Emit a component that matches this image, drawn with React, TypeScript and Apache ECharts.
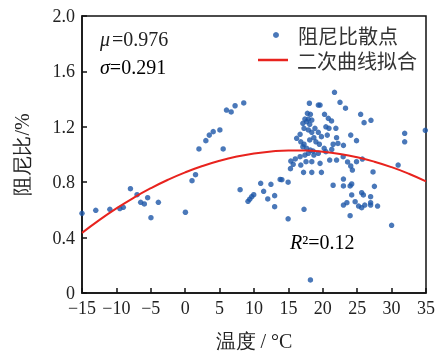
import React, { useEffect, useRef } from "react";
import * as echarts from "echarts";

// Scatter points: [temperature °C, damping ratio %]
const coldPoints: number[][] = [
  [-15.0, 0.575], [-13.0, 0.597], [-10.95, 0.604], [-9.5, 0.61], [-9.0, 0.619],
  [-7.96, 0.753], [-7.0, 0.71], [-6.47, 0.655], [-5.94, 0.643], [-5.46, 0.688],
  [-4.98, 0.544], [-3.9, 0.655], [0.03, 0.583], [0.99, 0.811], [1.5, 0.854],
];
const risingPoints: number[][] = [
  [2.0, 1.04], [3.0, 1.1], [3.5, 1.14], [4.07, 1.165], [5.04, 1.177], [5.52, 1.04],
  [6.0, 1.321], [6.68, 1.307], [7.25, 1.352], [8.51, 1.372], [7.98, 0.746],
  [9.13, 0.662], [9.38, 0.677], [9.67, 0.695], [9.96, 0.71], [10.97, 0.792],
  [11.4, 0.734], [12.0, 0.679], [12.46, 0.785], [13.0, 0.703], [13.0, 0.623],
  [13.8, 0.82], [14.05, 0.818], [14.96, 0.8], [14.96, 0.536], [15.3, 0.898],
  [17.27, 0.604],
];
const clusterPoints: number[][] = [
  [18.05, 1.37], [19.35, 1.357], [19.6, 1.357], [22.5, 1.377], [23.3, 1.334],
  [17.76, 1.297], [18.2, 1.29], [17.4, 1.256], [17.9, 1.256], [18.4, 1.249],
  [17.1, 1.225], [17.66, 1.237], [18.1, 1.218], [17.27, 1.189], [16.7, 1.146],
  [16.2, 1.117], [16.8, 1.092], [17.27, 1.074], [17.9, 1.177], [18.4, 1.16],
  [18.86, 1.189], [19.35, 1.16], [19.8, 1.129], [18.7, 1.121], [18.1, 1.105],
  [19.0, 1.092], [19.5, 1.074], [20.8, 1.261], [21.27, 1.242], [20.45, 1.2],
  [20.9, 1.189], [20.65, 1.14], [21.9, 1.189], [22.0, 1.121], [22.2, 1.08],
  [21.5, 1.074], [20.2, 1.045], [17.1, 1.056], [17.66, 1.045], [18.2, 1.032],
  [18.6, 1.025], [17.9, 1.009], [17.4, 0.996], [18.7, 0.996], [19.35, 1.009],
  [20.45, 1.02], [16.7, 0.984], [16.0, 0.968], [15.35, 0.953], [15.7, 0.929],
  [16.8, 0.924], [17.56, 0.948], [18.4, 0.948], [19.6, 0.936], [17.2, 0.871],
  [18.4, 0.871], [19.8, 0.871], [22.0, 0.96], [22.96, 0.984], [20.25, 1.29],
  [18.2, 0.094],
];
const warmPoints: number[][] = [
  [21.7, 1.449], [25.5, 1.29], [26.0, 1.23], [27.0, 1.247], [31.9, 1.153],
  [31.9, 1.092], [34.9, 1.175], [24.06, 1.14], [24.9, 1.1], [23.0, 1.066],
  [21.3, 1.037], [21.0, 0.96], [23.6, 0.946], [24.9, 0.948], [25.75, 0.967],
  [24.06, 0.917], [24.3, 0.888], [27.3, 0.874], [30.95, 0.924], [27.5, 0.77],
  [21.5, 0.778], [23.0, 0.823], [23.0, 0.773], [23.97, 0.773], [24.2, 0.787],
  [24.2, 0.708], [25.65, 0.724], [25.9, 0.708], [26.95, 0.695], [24.7, 0.659],
  [25.2, 0.628], [25.65, 0.616], [26.1, 0.635], [26.95, 0.635], [27.96, 0.628],
  [23.0, 0.635], [23.5, 0.652], [23.97, 0.558], [30.0, 0.489], [26.95, 0.652],
];

// Quadratic fit y = A (x - H)^2 + K, coefficients
const FIT_A = -0.00062;
const FIT_H = 16;
const FIT_K = 1.03;
const fitXs: number[] = [-15, -12.5, -10, -7.5, -5, -2.5, 0, 2.5, 5, 7.5, 10, 12.5, 15, 17.5, 20, 22.5, 25, 27.5, 30, 32.5, 35];

const xTicks = { min: -15, max: 35, interval: 5 };
const yTicks = { min: 0, max: 2, interval: 0.4 };

const mu = "0.976";
const sigma = "0.291";
const r2 = "0.12";

export default function App() {
  const ref = useRef<HTMLDivElement>(null);
  useEffect(() => {
    if (!ref.current) return;
    const chart = echarts.init(ref.current, undefined, { renderer: "svg" });
    const scatterData = [...coldPoints, ...risingPoints, ...clusterPoints, ...warmPoints];
    const fitData = fitXs.map((x) => [x, FIT_A * (x - FIT_H) * (x - FIT_H) + FIT_K]);
    const fmtX = (v: number) => (v < 0 ? "\u2212" + Math.abs(v) : String(v));
    const fmtY = (v: number) => (v === 0 ? "0" : v.toFixed(1));
    chart.setOption({
      animation: false,
      grid: {
        left: 82, right: 10, top: 16, bottom: 63,
        show: true, borderColor: "#111", borderWidth: 1.5,
      },
      xAxis: {
        type: "value", ...xTicks,
        name: "温度 / °C", nameLocation: "middle", nameGap: 38,
        nameTextStyle: { fontFamily: "serif", fontSize: 20, color: "#222" },
        axisLine: { show: true, onZero: false, lineStyle: { color: "#111", width: 1.5 } },
        axisTick: { show: true, inside: true, length: 5, lineStyle: { color: "#111", width: 1.5 } },
        axisLabel: { formatter: fmtX, fontFamily: "Liberation Serif", fontStyle: "normal", fontWeight: "normal", fontSize: 18, color: "#222", margin: 6 },
        splitLine: { show: false },
      },
      yAxis: {
        type: "value", ...yTicks,
        name: "阻尼比/%", nameLocation: "middle", nameGap: 50,
        nameTextStyle: { fontFamily: "serif", fontSize: 20, color: "#222" },
        axisLine: { show: true, onZero: false, lineStyle: { color: "#111", width: 1.5 } },
        axisTick: { show: true, inside: true, length: 5, lineStyle: { color: "#111", width: 1.5 } },
        axisLabel: { formatter: fmtY, fontFamily: "serif", fontSize: 18, color: "#222", margin: 7 },
        splitLine: { show: false },
      },
      legend: [
        {
          data: [{ name: "阻尼比散点", icon: "circle" }],
          left: 273, top: 25, padding: 0, itemWidth: 34, itemHeight: 6,
          textStyle: { fontFamily: "Noto Sans CJK SC", fontSize: 20, color: "#333", lineHeight: 20 },
        },
        {
          data: [{ name: "二次曲线拟合", icon: "rect" }],
          left: 258, top: 50, padding: 0, itemWidth: 30, itemHeight: 2.5,
          textStyle: { fontFamily: "Noto Sans CJK SC", fontSize: 20, color: "#333", lineHeight: 20, padding: [0, 0, 0, 4] },
        },
      ],
      graphic: [
        { type: "text", left: 100, top: 29, style: { text: "μ", fontFamily: "Liberation Serif", fontStyle: "italic", fontSize: 20, fill: "#222" } },
        { type: "text", left: 112, top: 29, style: { text: "=" + mu, fontFamily: "Liberation Serif", fontSize: 20, fill: "#222" } },
        { type: "text", left: 100, top: 57, style: { text: "{i|σ}{n|=" + sigma + "}", font: "20px serif", rich: { i: { font: "italic 20px serif" }, n: { font: "20px serif" } } } },
        { type: "text", left: 290, top: 232, style: { text: "{i|R}{n|²=" + r2 + "}", rich: { i: { fontFamily: "serif", fontStyle: "italic", fontSize: 20 }, n: { fontFamily: "serif", fontSize: 20 } } } },
      ],
      series: [
        {
          name: "阻尼比散点", type: "scatter", data: scatterData,
          symbol: "circle", symbolSize: 5.5,
          itemStyle: { color: "#1d56a8" },
          z: 2,
        },
        {
          name: "二次曲线拟合", type: "line", data: fitData,
          smooth: true, showSymbol: false, symbol: "none",
          lineStyle: { color: "#e8231e", width: 2 },
          itemStyle: { color: "#e8231e" },
          z: 3,
        },
      ],
    });
    return () => chart.dispose();
  }, []);
  return <div ref={ref} style={{ position: "fixed", left: 0, top: 0, width: 438, height: 356 }} />;
}
